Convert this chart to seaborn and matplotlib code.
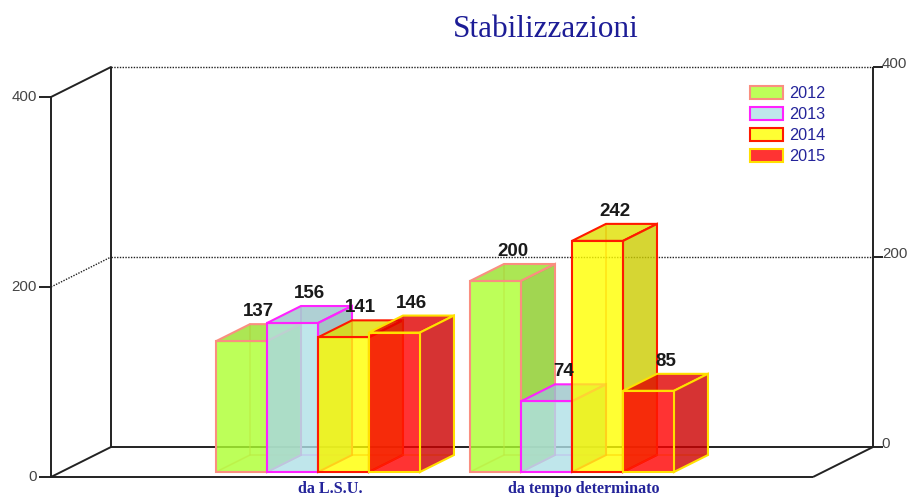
import matplotlib
matplotlib.use("Agg")
import matplotlib.pyplot as plt
import pandas as pd
import seaborn as sns
from matplotlib.colors import to_rgb
from matplotlib.patches import Patch, Polygon

# Chart data
categories = ["da L.S.U.", "da tempo determinato"]
years = ["2012", "2013", "2014", "2015"]
values_2012 = [137, 200]
values_2013 = [156, 74]
values_2014 = [141, 242]
values_2015 = [146, 85]
y_ticks = [0, 200, 400]

# Styles
fill_colors = ["#ADFF2F", "#B0E0E6", "#FFFF00", "#FF0000"]
edge_colors = ["#FA8F80", "#FF22FF", "#FF1A00", "#FFE000"]
text_blue = "#24249A"
tick_grey = "#444444"

# 908x497 figure, pixel scale helpers
W, H = 908, 497
BAR_SCALE = 0.955  # pixels per unit for bars
WALL_SCALE = 0.95  # pixels per unit for walls
GROUP_STEP = 254
DEPTH_X = 34 / GROUP_STEP
DEPTH_Y = 17 / BAR_SCALE

df = pd.DataFrame({
    "group": categories * 4,
    "year": [y for y in years for _ in categories],
    "value": values_2012 + values_2013 + values_2014 + values_2015,
})

sns.set_theme(style="white")
plt.rcParams["font.family"] = ["Liberation Sans", "DejaVu Sans"]

fig = plt.figure(figsize=(W / 100, H / 100), dpi=100)

# Back axes: the 3D box, x in pixels, y in values on the front plane
frame = fig.add_axes([0, 0, 1, 1], zorder=1)
frame.set_xlim(0, W)
frame.set_ylim(-(H - 477) / WALL_SCALE, 477 / WALL_SCALE)
frame.axis("off")

left, right = 51, 813
wall_dx, wall_dy = 60, 30 / WALL_SCALE
top = max(y_ticks)
line = dict(color="#222222", lw=1.4, solid_capstyle="butt")

frame.plot([left, left], [0, top], **line)
frame.plot([left + wall_dx] * 2, [wall_dy, top + wall_dy], **line)
frame.plot([right + wall_dx] * 2, [wall_dy, top + wall_dy], **line)
frame.plot([left, right], [0, 0], **line)
frame.plot([right, right + wall_dx], [0, wall_dy], **line)

for tick in y_ticks:
    is_grid = tick not in (0, top)
    frame.plot([left - 12, left], [tick, tick], **line)
    frame.plot([right + wall_dx, right + wall_dx + 10], [tick + wall_dy] * 2, **line)
    frame.plot([left, left + wall_dx], [tick, tick + wall_dy],
               color="#222222", lw=1.0 if is_grid else 1.4,
               ls=(0, (1, 1)) if is_grid else "-")
    if tick == 0:
        frame.plot([left + wall_dx, right + wall_dx], [wall_dy, wall_dy], **line)
    else:
        frame.plot([left + wall_dx, right + wall_dx], [tick + wall_dy] * 2,
                   color="#222222", lw=1.0, ls=(0, (1, 1)))
    frame.text(left - 14, tick, str(tick), ha="right", va="center",
               color=tick_grey, fontsize=10.8)
    frame.text(right + wall_dx + 9 if tick else right + wall_dx + 8,
               tick + wall_dy + 3, str(tick), ha="left", va="center",
               color=tick_grey, fontsize=10.8)

frame.text(546, (477 - 26) / WALL_SCALE, "Stabilizzazioni", ha="center", va="center_baseline",
           family="Liberation Serif", color="#1C1C96", fontsize=22.5)

# Front axes: the bars, x in category units, y in values
ax = fig.add_axes([0, 0, 1, 1], zorder=2)
ax.patch.set_alpha(0)
sns.barplot(data=df, x="group", y="value", hue="year", order=categories,
            hue_order=years, palette=fill_colors, saturation=1, width=0.803,
            gap=0, legend=False, ax=ax)
ax.set_xlim(-318 / GROUP_STEP, (W - 318) / GROUP_STEP)
ax.set_ylim(-(H - 472) / BAR_SCALE, 472 / BAR_SCALE)
ax.axis("off")


def shade(color, factor):
    r, g, b = to_rgb(color)
    return (r * factor, g * factor, b * factor, 0.8)


for i, container in enumerate(ax.containers):
    fill, edge = fill_colors[i], edge_colors[i]
    base = 10 + i * 5
    for bar in container:
        x0, w, h = bar.get_x(), bar.get_width(), bar.get_height()
        x1 = x0 + w
        # hidden edges, seen through the faces
        ax.plot([x0 + DEPTH_X, x0 + DEPTH_X], [DEPTH_Y, h + DEPTH_Y], color=edge,
                lw=1.2, alpha=0.55, zorder=base)
        ax.plot([x0, x0 + DEPTH_X, x1 + DEPTH_X], [0, DEPTH_Y, DEPTH_Y], color=edge,
                lw=1.2, alpha=0.55, zorder=base)
        ax.add_patch(Polygon([(x0, h), (x1, h), (x1 + DEPTH_X, h + DEPTH_Y),
                              (x0 + DEPTH_X, h + DEPTH_Y)], closed=True,
                             facecolor=shade(fill, 0.88), edgecolor=edge, lw=1.5,
                             zorder=base + 1))
        ax.add_patch(Polygon([(x1, 0), (x1 + DEPTH_X, DEPTH_Y),
                              (x1 + DEPTH_X, h + DEPTH_Y), (x1, h)], closed=True,
                             facecolor=shade(fill, 0.8), edgecolor=edge, lw=1.5,
                             zorder=base + 2))
        bar.set_facecolor(shade(fill, 1.0))
        bar.set_edgecolor(edge)
        bar.set_linewidth(1.5)
        bar.set_zorder(base + 3)
        ax.text(x0 + w / 2 + DEPTH_X / 2, h + DEPTH_Y + 4 / BAR_SCALE, f"{h:.0f}",
                ha="center", va="bottom", fontsize=13.5, fontweight="bold",
                color="#1a1a1a", zorder=100)

for i, cat in enumerate(categories):
    ax.text(i + 0.047, -17.5, cat, ha="center", va="center", family="Liberation Serif",
            fontweight="bold", fontsize=11.6, color=text_blue, zorder=100)

handles = [Patch(facecolor=shade(f, 1.0), edgecolor=e, lw=1.5)
           for f, e in zip(fill_colors, edge_colors)]
ax.legend(handles, years, loc="upper left", frameon=False, fontsize=11.7,
          labelcolor=text_blue, bbox_to_anchor=(750 / W, 1 - 86 / H),
          borderaxespad=0, borderpad=0, handlelength=2.03, handleheight=0.8,
          handletextpad=0.4, labelspacing=0.37)

fig.savefig("out.png", dpi=100)
